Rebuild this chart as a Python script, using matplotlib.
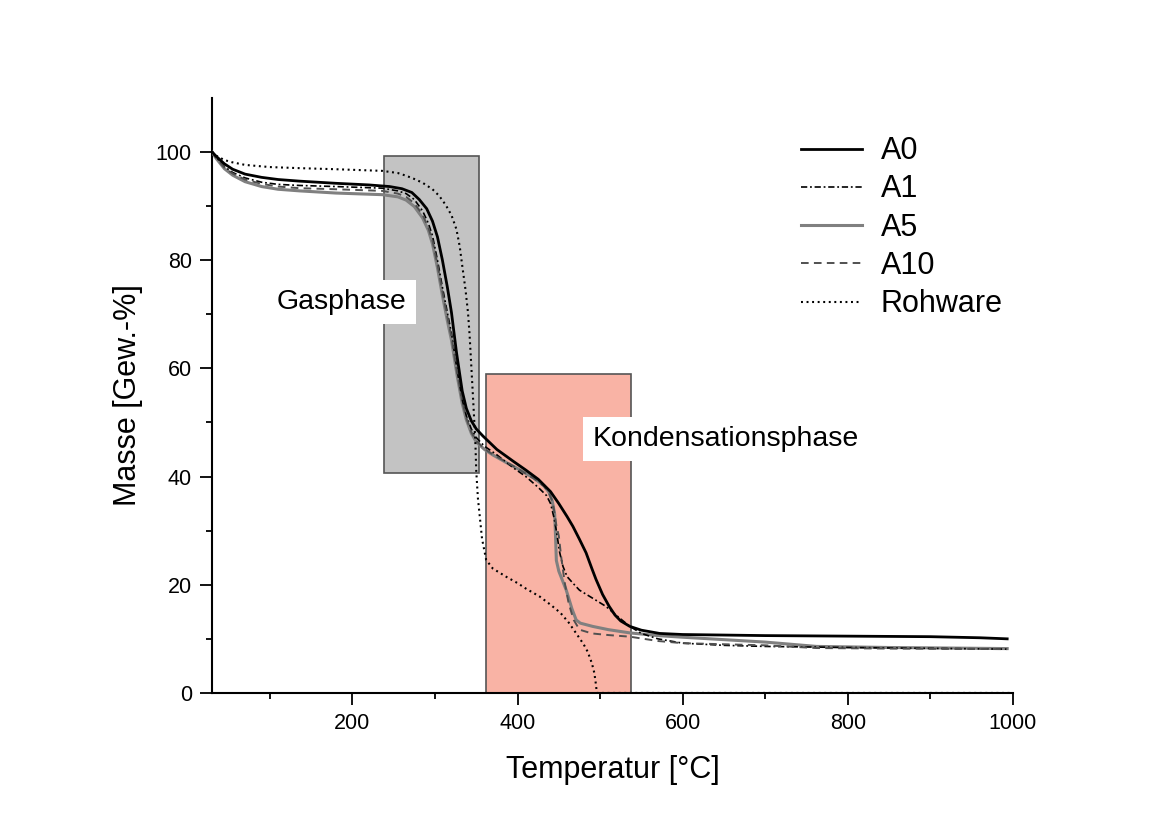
import matplotlib
matplotlib.use("Agg")
from matplotlib import pyplot as plt
from matplotlib.patches import Rectangle

plt.rcParams['font.family'] = ['Liberation Sans', 'DejaVu Sans']
plt.rcParams['lines.scale_dashes'] = False

# TGA curves (temperature in °C, mass in Gew.-%)
a0_x = [30, 35, 45, 55, 70, 90, 110, 136, 180, 220, 245, 260, 272, 281, 290, 297, 303, 309, 315, 320,
        326, 333, 338, 344, 350, 358, 375, 395, 410, 425, 440, 450, 460, 467, 475, 483, 490, 495, 503,
        511, 518, 525, 536, 550, 572, 600, 700, 800, 900, 960, 993]
a0_y = [100, 99.2, 97.8, 96.8, 95.9, 95.3, 94.9, 94.6, 94.2, 93.9, 93.6, 93.2, 92.5, 91.2, 89.5, 87.2, 84.3, 80, 75, 70.3,
        63, 55.8, 52.6, 50.3, 48.8, 47.5, 45, 42.8, 41.2, 39.5, 37.2, 35, 32.6, 30.8, 28.4, 25.9, 23, 21, 18.2,
        16, 14.4, 13.3, 12.3, 11.6, 11, 10.8, 10.6, 10.5, 10.4, 10.2, 10.0]

a1_x = [30, 35, 45, 55, 70, 90, 110, 136, 180, 236, 255, 265, 275, 285, 292, 297, 303, 309, 315, 320,
        327, 333, 338, 344, 350, 360, 375, 395, 410, 425, 435, 440, 444, 447, 451, 455, 460, 467, 475,
        490, 507, 520, 536, 550, 570, 600, 650, 700, 800, 993]
a1_y = [100, 99, 97.3, 96.2, 95.2, 94.4, 94, 93.8, 93.6, 93.3, 92.8, 92.3, 91.2, 89.1, 86.8, 84.5, 80, 75, 70.3, 66.5,
        59.5, 54.2, 51.2, 48.8, 47.2, 45.6, 44, 41.6, 40, 38, 36.5, 35, 32.5, 30, 26, 23.4, 21.5, 20.3, 19,
        17.6, 16, 14.3, 12.3, 11, 10, 9.2, 8.8, 8.6, 8.4, 8.1]

a5_x = [30, 35, 45, 55, 70, 90, 110, 136, 180, 236, 255, 265, 275, 285, 292, 297, 303, 309, 315, 320,
        327, 333, 338, 344, 350, 360, 370, 385, 402, 420, 432, 438, 442, 445, 446, 447, 450, 459, 466,
        471, 476, 491, 510, 536, 570, 600, 700, 762, 850, 993]
a5_y = [100, 98.8, 96.9, 95.7, 94.5, 93.6, 93.1, 92.8, 92.4, 92.1, 91.7, 91.1, 89.9, 87.8, 85.5, 83, 78.6, 73.5, 68.8, 65.2,
        58.5, 53.5, 50.5, 48, 46.4, 45, 44, 42.7, 41.3, 39.7, 38.3, 37.1, 35.5, 33, 29, 24.5, 22.5, 19, 15.5,
        13.5, 12.9, 12.3, 11.7, 11.1, 10.6, 10.3, 9.4, 8.6, 8.4, 8.2]

a10_x = [30, 35, 45, 55, 70, 90, 110, 136, 180, 236, 255, 265, 275, 285, 292, 297, 303, 309, 315, 320,
         327, 333, 338, 344, 350, 360, 370, 385, 402, 420, 432, 438, 442, 444, 447, 450, 453, 457, 462,
         468, 475, 490, 510, 536, 570, 600, 700, 762, 850, 993]
a10_y = [100, 98.9, 97.1, 96, 94.9, 94.1, 93.6, 93.3, 93.1, 92.8, 92.3, 91.7, 90.5, 88.4, 86, 83.6, 79.2, 74.2, 69.5, 65.8,
         59, 54, 50.8, 48.2, 46.6, 45.1, 44.1, 42.8, 41.3, 39.6, 38.2, 37, 35.5, 34, 31, 29, 25, 20.5, 16.5,
         13.5, 11.7, 11, 10.7, 10.4, 9.6, 9.2, 8.8, 8.3, 8.2, 8.1]

roh_x = [30, 35, 45, 54, 70, 100, 136, 180, 236, 255, 265, 275, 285, 297, 305, 313, 320, 326, 330, 333,
         337, 340, 342, 344, 347, 349, 350, 352, 354, 357, 362, 370, 386, 400, 410, 427, 440, 452, 462,
         472, 480, 485, 490, 493, 495, 496, 600, 800, 1000]
roh_y = [100, 99.3, 98.5, 98.1, 97.6, 97.2, 97, 96.8, 96.5, 96.1, 95.6, 95, 94.3, 93.1, 91.9, 90.2, 88.3, 85.7, 82.5, 79,
         74.5, 70.3, 66, 60.4, 52, 46, 41, 36, 33, 28.5, 24.6, 23, 21.5, 20.3, 19.3, 17.8, 16.3, 14.8, 13,
         10.8, 9, 7.6, 5.5, 3.7, 1.5, 0, 0, 0, 0]

# shaded phase regions: (x0, x1, y0, y1)
gas_box = (238, 353, 40.7, 99.3)
kond_box = (362, 538, 0, 58.9)

fig = plt.figure(figsize=(11.65, 8.22), dpi=100)
ax = fig.add_axes([0.182, 0.157, 0.6875, 0.724])

ax.add_patch(Rectangle((gas_box[0], gas_box[2]), gas_box[1] - gas_box[0], gas_box[3] - gas_box[2],
                       facecolor="#c3c3c3", edgecolor="#555555", lw=1.2, zorder=1))
ax.add_patch(Rectangle((kond_box[0], kond_box[2]), kond_box[1] - kond_box[0], kond_box[3] - kond_box[2],
                       facecolor="#f9b3a5", edgecolor="#555555", lw=1.2, zorder=1))

ax.plot(a0_x, a0_y, color="black", lw=2.0, label="A0", zorder=5)
ax.plot(a1_x, a1_y, color="black", lw=1.2, dashes=(4.5, 2, 1.3, 2), label="A1", zorder=4)
ax.plot(a5_x, a5_y, color="#808080", lw=2.2, label="A5", zorder=3)
ax.plot(a10_x, a10_y, color="#505050", lw=1.4, dashes=(5.5, 3.8), label="A10", zorder=4)
ax.plot(roh_x, roh_y, color="black", lw=1.5, dashes=(1.4, 2.6), label="Rohware", zorder=4)

ax.text(187, 72.2, "Gasphase", fontsize=20.5, ha="center", va="center", zorder=6,
        bbox=dict(facecolor="white", edgecolor="none", pad=6.5))
ax.text(652, 47.0, "Kondensationsphase", fontsize=20.5, ha="center", va="center", zorder=6,
        bbox=dict(facecolor="white", edgecolor="none", pad=6.5))

ax.set_xlim(30, 1000)
ax.set_ylim(0, 110)
ax.set_xticks([200, 400, 600, 800, 1000])
ax.set_xticks([100, 300, 500, 700, 900], minor=True)
ax.set_yticks([0, 20, 40, 60, 80, 100])
ax.set_yticks([10, 30, 50, 70, 90], minor=True)
ax.spines["top"].set_visible(False)
ax.spines["right"].set_visible(False)
for s in ["left", "bottom"]:
    ax.spines[s].set_linewidth(1.5)
ax.tick_params(which="major", direction="out", length=8.5, width=1.3, labelsize=15.5, pad=6)
ax.tick_params(which="minor", direction="out", length=4.5, width=1.3)

ax.set_xlabel("Temperatur [°C]", fontsize=22, labelpad=15)
ax.set_ylabel("Masse [Gew.-%]", fontsize=22, labelpad=9)

ax.legend(loc="upper left", bbox_to_anchor=(0.72, 0.956), frameon=False, fontsize=22,
          handlelength=2.0, handletextpad=0.62, labelspacing=0.27, borderaxespad=0)

plt.savefig("out.png", dpi=100)
